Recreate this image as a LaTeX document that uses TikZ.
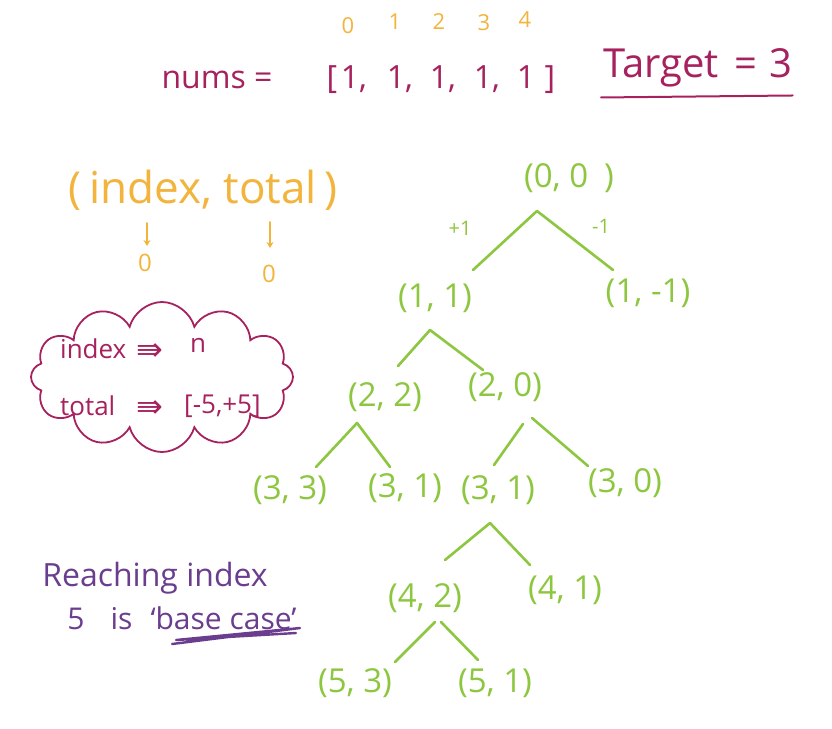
\documentclass[tikz,border=0pt]{standalone}
\usepackage{fontspec}
\setmainfont{Open Sans}
\newfontfamily\symfont{DejaVu Sans}
\usetikzlibrary{calc,shapes.symbols,arrows.meta}
\definecolor{mag}{HTML}{A6215E}
\definecolor{pur}{HTML}{6A3D8F}
\definecolor{grn}{HTML}{8DC63F}
\definecolor{org}{HTML}{F2B43C}
\begin{document}
\begin{tikzpicture}[x=1pt,y=-1pt,
  tnode/.style={text=grn,font=\fontsize{33}{35}\selectfont,inner sep=0pt},
  edge/.style={draw=grn,line width=2.6pt,line cap=round,line join=round},
  magtxt/.style={text=mag,inner sep=0pt},
  idx/.style={text=org,font=\fontsize{22}{24}\selectfont,inner sep=0pt},
  elem/.style={text=mag,font=\fontsize{32}{34}\selectfont,inner sep=0pt,anchor=base},
  orgtxt/.style={text=org,inner sep=0pt},
  puretxt/.style={text=pur,inner sep=0pt},
  orgarrow/.style={draw=org,line width=2pt,line cap=round,-{Stealth[length=6pt,width=7pt]}},
  pen/.style={line width=2.2pt,line cap=round,line join=round}]
\useasboundingbox (0,0) rectangle (832,728);
\fill[white] (0,0) rectangle (832,728);

% ---- nums array ----
\node[elem] (nums) at (217,88) {nums =};
\node[elem] (lb) at (332,88) {[};
\node[elem] (e0) at (354,88) {1,};
\node[elem] (e1) at (400,88) {1,};
\node[elem] (e2) at (443,88) {1,};
\node[elem] (e3) at (487,88) {1,};
\node[elem] (e4) at (526,88) {1};
\node[elem] (rb) at (550,88) {]};
\node[idx] (i0) at ($(e0.base)+(-6,-62)$) {0};
\node[idx] (i1) at ($(e1.base)+(-5,-66)$) {1};
\node[idx] (i2) at ($(e2.base)+(-4,-66)$) {2};
\node[idx] (i3) at ($(e3.base)+(-3,-65)$) {3};
\node[idx] (i4) at ($(e4.base)+(-1,-68)$) {4};

% ---- target ----
\node[magtxt,font=\fontsize{40}{42}\selectfont,anchor=west] (tgt) at (603,68) {Target\hspace{16pt}=\hspace{12pt}3};
\coordinate (ul1) at ($(tgt.south west)+(-2,10)$);
\coordinate (ul2) at ($(tgt.south east)+(0,8)$);
\draw[mag,pen,line width=2pt] (ul1) -- (ul2);

% ---- (index, total) ----
\node[orgtxt,font=\fontsize{44}{46}\selectfont] (it) at (203,190) {(\,index, total\,)};
\node[idx,font=\fontsize{24}{26}\selectfont] (z1) at (145,263) {0};
\node[idx,font=\fontsize{24}{26}\selectfont] (z2) at (269,274) {0};
\coordinate (a1) at ($(z1)+(2,-40)$);
\coordinate (a2) at ($(z2)+(1,-52)$);
\draw[orgarrow] (a1) -- ($(z1)+(2,-17)$);
\draw[orgarrow] (a2) -- ($(z2)+(1,-26)$);

% ---- cloud ----
\node[cloud,draw=mag,line width=1.8pt,cloud puffs=12,cloud ignores aspect,
      minimum width=262pt,minimum height=150pt] (cloud) at (162,377) {};
\node[magtxt,font=\fontsize{26}{28}\selectfont,anchor=base west] (cidx) at (60,358) {index};
\node[magtxt,font=\symfont\fontsize{32}{34}\selectfont,anchor=base west] (car1) at (136,360) {⇛};
\node[magtxt,font=\fontsize{26}{28}\selectfont,anchor=base west] (cn) at (190,352) {n};
\node[magtxt,font=\fontsize{26}{28}\selectfont,anchor=base west] (ctot) at (60,415) {total};
\node[magtxt,font=\symfont\fontsize{32}{34}\selectfont,anchor=base west] (car2) at (136,417) {⇛};
\node[magtxt,font=\fontsize{26}{28}\selectfont,anchor=base west] (crng) at (184,413) {[-5,+5]};

% ---- base case note ----
\node[puretxt,font=\fontsize{32}{34}\selectfont] (reach) at (155,578) {Reaching index};
\node[puretxt,font=\fontsize{30}{32}\selectfont] (base) at (182,618) {5\hspace{26pt}is\hspace{18pt}‘base case’};
\coordinate (b1) at (172,644);
\coordinate (b2) at (300,628);
\coordinate (b3) at (176,640);
\coordinate (b4) at (296,633);
\draw[pur,pen,line width=2.4pt] (b1) -- (b2) -- (b3) -- (b4);

% ---- tree ----
\node[tnode] (n00) at (569,178) {(0, 0\hspace{16pt})};
\node[tnode] (n11) at (435,298) {(1, 1)};
\node[tnode] (n1m) at (648,293) {(1, -1)};
\node[tnode] (n22) at (385,397) {(2, 2)};
\node[tnode] (n20) at (505,387) {(2, 0)};
\node[tnode] (n33) at (290,490) {(3, 3)};
\node[tnode] (n31a) at (405,488) {(3, 1)};
\node[tnode] (n31b) at (498,490) {(3, 1)};
\node[tnode] (n30) at (625,483) {(3, 0)};
\node[tnode] (n42) at (425,598) {(4, 2)};
\node[tnode] (n41) at (565,590) {(4, 1)};
\node[tnode] (n53) at (355,683) {(5, 3)};
\node[tnode] (n51) at (495,683) {(5, 1)};

\node[tnode,font=\fontsize{20}{22}\selectfont] (plus) at (460,228) {+1};
\node[tnode,font=\fontsize{20}{22}\selectfont] (minus) at (601,226) {-1};

\coordinate (p0) at ($(n00)+(-32,33)$);
\coordinate (p1) at ($(n11)+(-5,32)$);
\coordinate (p2) at ($(n22)+(-28,26)$);
\coordinate (p3) at ($(n31b)+(-8,33)$);
\coordinate (p4) at ($(n42)+(10,24)$);

\draw[edge] ($(n11)+(38,-28)$) -- (p0) -- ($(n1m)+(-35,-23)$);
\draw[edge] ($(n22)+(13,-31)$) -- (p1) -- ($(n20)+(-22,-17)$);
\draw[edge] ($(n33)+(26,-23)$) -- (p2) -- ($(n31a)+(-15,-21)$);
\draw[edge] ($(n20)+(18,37)$) -- ($(n31b)+(-4,-25)$);
\draw[edge] ($(n20)+(27,31)$) -- ($(n30)+(-37,-17)$);
\draw[edge] ($(n42)+(20,-38)$) -- (p3) -- ($(n41)+(-35,-25)$);
\draw[edge] ($(n53)+(40,-21)$) -- (p4);
\draw[edge] ($(n42)+(16,24)$) -- ($(n51)+(-17,-23)$);
\end{tikzpicture}
\end{document}
